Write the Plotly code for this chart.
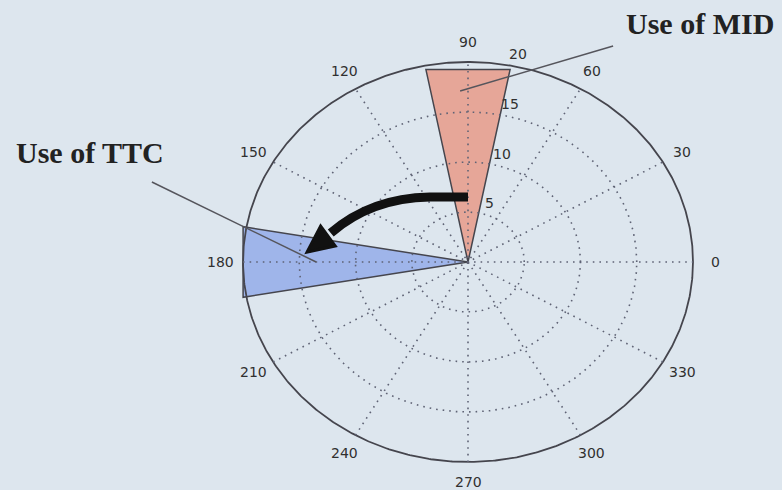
import numpy as np
import plotly.graph_objects as go

# Polar grid definition (degrees / radial units)
angle_ticks = [0, 30, 60, 90, 120, 150, 180, 210, 240, 270, 300, 330]
angle_labels = ["0", "30", "60", "90", "120", "150", "180", "210", "240", "270", "300", "330"]
radial_ticks = [5, 10, 15, 20]
radial_labels = ["5", "10", "15", "20"]
r_max = 20

# Sectors: name, vertex radius, start angle, end angle, fill colour
sector_names = ["Use of MID", "Use of TTC"]
sector_radius = [19.6, 20.3]
sector_start = [79.0, 170.0]
sector_end = [101.0, 190.0]
sector_colors = ["#e6a698", "#9fb5ea"]

BG = "#dde6ee"
GRID = "#5f6375"
EDGE = "#45454d"
TEXT = "#303030"
DOTS = "1.6px,5px"

def pol(r, deg):
    t = np.deg2rad(deg)
    return r * np.cos(t), r * np.sin(t)

fig = go.Figure()

# Filled sectors (triangular patches from the origin)
for name, r, a0, a1, col in zip(sector_names, sector_radius, sector_start, sector_end, sector_colors):
    x0, y0 = pol(r, a0)
    x1, y1 = pol(r, a1)
    fig.add_trace(go.Scatter(
        x=[0, x0, x1, 0], y=[0, y0, y1, 0], mode="lines", fill="toself",
        fillcolor=col, line=dict(color=EDGE, width=1.5), name=name,
        hoverinfo="name", showlegend=False))

# Dotted inner rings and solid outer ring
th = np.linspace(0, 360, 721)
for r in radial_ticks:
    cx, cy = pol(r, th)
    outer = r == r_max
    fig.add_trace(go.Scatter(
        x=cx, y=cy, mode="lines", hoverinfo="skip", showlegend=False,
        line=dict(color=EDGE if outer else GRID, width=1.8 if outer else 1.6,
                  dash="solid" if outer else DOTS)))

# Dotted spokes (full diameters every 30 degrees)
for a in angle_ticks[:6]:
    sx, sy = pol(r_max, a)
    fig.add_trace(go.Scatter(
        x=[-sx, sx], y=[-sy, sy], mode="lines", hoverinfo="skip", showlegend=False,
        line=dict(color=GRID, width=1.6, dash=DOTS)))

annotations = []
# Angle labels on a ring at 1.1 * r_max
for a, lab in zip(angle_ticks, angle_labels):
    lx, ly = pol(1.1 * r_max, a)
    annotations.append(dict(x=lx, y=ly, text=lab, showarrow=False,
                            xanchor="center", yanchor="middle",
                            font=dict(family="DejaVu Sans", size=14, color=TEXT)))

# Radial labels along the 82 degree direction
for r, lab in zip(radial_ticks, radial_labels):
    lx, ly = pol(r + 0.25, 82)
    annotations.append(dict(x=lx, y=ly, text=lab, showarrow=False,
                            xanchor="left", yanchor="bottom", xshift=7, yshift=-3,
                            font=dict(family="DejaVu Sans", size=14, color=TEXT)))

# Callout text and leader lines
callouts = [
    dict(text="Use of MID", tx=20.6, ty=23.9, lx0=-0.7, ly0=17.1, lx1=12.9, ly1=21.6),
    dict(text="Use of TTC", tx=-33.6, ty=11.0, lx0=-28.1, ly0=8.0, lx1=-13.5, ly1=0.0),
]
shapes = []
for c in callouts:
    annotations.append(dict(x=c["tx"], y=c["ty"], text="<b>%s</b>" % c["text"],
                            showarrow=False, xanchor="center", yanchor="middle",
                            font=dict(family="Liberation Serif", size=30, color="#222222")))
    shapes.append(dict(type="line", xref="x", yref="y", x0=c["lx0"], y0=c["ly0"],
                       x1=c["lx1"], y1=c["ly1"], line=dict(color="#55555c", width=1.5)))

# Curved black arrow from the MID sector towards the TTC sector
shapes.append(dict(type="path", xref="x", yref="y",
                   path="M 0,6.5 L -3.4,6.5 Q -8.6,6.4 -12.2,2.9",
                   line=dict(color="#111111", width=9)))
shapes.append(dict(type="path", xref="x", yref="y",
                   path="M -14.3,1.0 L -13.1,3.6 L -11.8,1.6 Z",
                   fillcolor="#111111", line=dict(color="#111111", width=3)))

fig.update_layout(
    width=782, height=490, margin=dict(l=0, r=0, t=0, b=0),
    paper_bgcolor=BG, plot_bgcolor=BG,
    xaxis=dict(range=[-468 / 11.25, (782 - 468) / 11.25], visible=False, fixedrange=True),
    yaxis=dict(range=[-(490 - 262) / 10.0, 262 / 10.0], visible=False, fixedrange=True),
    annotations=annotations, shapes=shapes, showlegend=False,
)

fig.write_html("out.html")
